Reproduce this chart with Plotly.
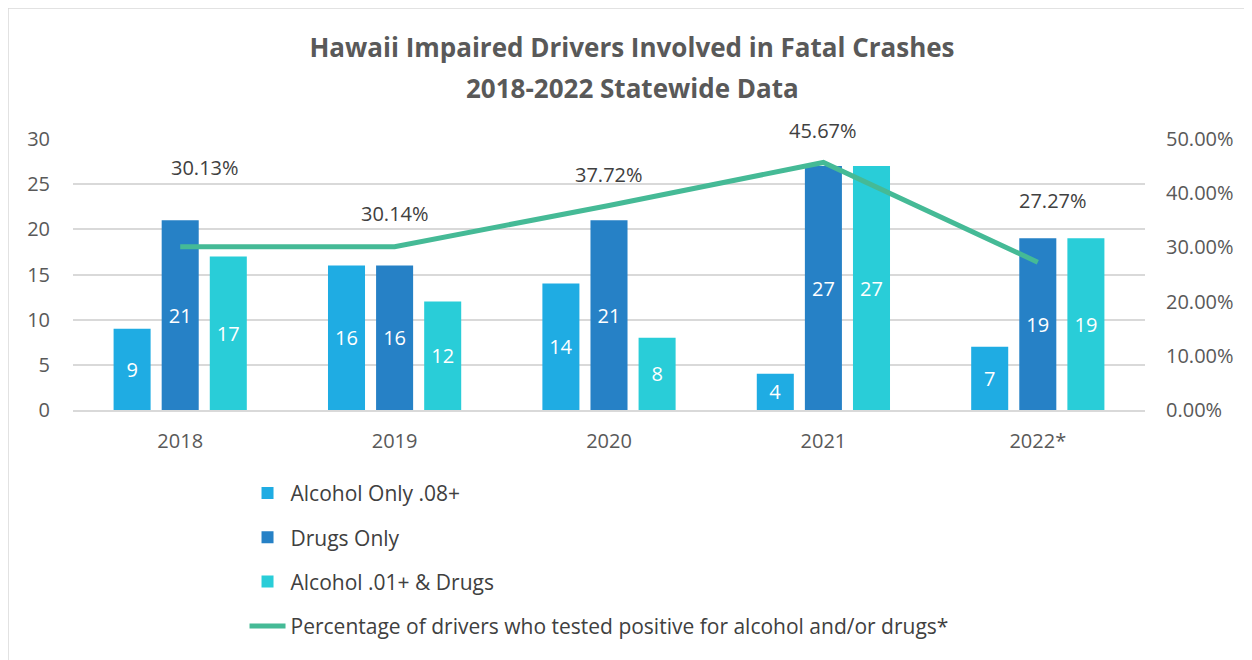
import plotly.graph_objects as go

years = ["2018", "2019", "2020", "2021", "2022*"]
alcohol_only = [9, 16, 14, 4, 7]
drugs_only = [21, 16, 21, 27, 19]
alcohol_drugs = [17, 12, 8, 27, 19]
pct_positive = [0.3013, 0.3014, 0.3772, 0.4567, 0.2727]

names = ["Alcohol Only .08+", "Drugs Only", "Alcohol .01+ & Drugs",
         "Percentage of drivers who tested positive for alcohol and/or drugs*"]
colors = ["#1FACE3", "#2681C6", "#29CDD8", "#45BA96"]

FONT = "Open Sans"
PLOT_H = 271  # px height of the plot area
fig = go.Figure()
for i, (vals, nm) in enumerate(zip([alcohol_only, drugs_only, alcohol_drugs], names[:3])):
    fig.add_trace(go.Bar(
        x=years, y=vals, name=nm, marker=dict(color=colors[i], line=dict(width=0)),
        text=[str(v) for v in vals], textposition="inside", insidetextanchor="middle",
        textfont=dict(color="white", size=20, family=FONT), constraintext="none",
        legendgroup=f"g{i}", cliponaxis=False,
    ))

fig.add_trace(go.Scatter(
    x=years, y=pct_positive, name=names[3], mode="lines", yaxis="y2",
    line=dict(color=colors[3], width=5), legendgroup="g3",
))

# label offsets (pixels) to mimic manually placed data labels
xshift = [25, 0, 0, 0, 15]
yshift = [79, 33, 31, 32, 62]
for i, p in enumerate(pct_positive):
    fig.add_annotation(x=i, xref="x", y=p, yref="y2", text=f"{p*100:.2f}%", showarrow=False,
                       xshift=xshift[i], yshift=yshift[i],
                       font=dict(size=20, color="#404040", family=FONT))

fig.add_annotation(xref="paper", yref="paper", x=(624 - 65) / 1072, y=(402 - 80) / PLOT_H,
                   text="<b>2018-2022 Statewide Data</b>", showarrow=False,
                   font=dict(size=26, color="#595959", family=FONT), yanchor="middle")

fig.update_layout(
    width=1244, height=652,
    margin=dict(l=65, r=107, t=131, b=250, autoexpand=False),
    paper_bgcolor="white", plot_bgcolor="white",
    title=dict(text="<b>Hawaii Impaired Drivers Involved in Fatal Crashes</b>",
               x=624 / 1244, xanchor="center", xref="container", yref="container",
               y=1 - 40 / 652, yanchor="middle",
               font=dict(size=26, color="#595959", family=FONT)),
    barmode="group", bargap=0.327, bargroupgap=0.23,
    font=dict(family=FONT, color="#595959", size=20),
    showlegend=True,
    legend=dict(x=0.160, y=-0.232, xanchor="left", yanchor="top", orientation="v",
                font=dict(size=21, color="#404040", family=FONT),
                tracegroupgap=14, itemwidth=36, bgcolor="rgba(0,0,0,0)"),
    xaxis=dict(type="category", range=[-0.5, 4.5], showgrid=False, showline=True,
               linecolor="#D9D9D9", linewidth=1.5,
               ticks="", ticklabelstandoff=12, tickfont=dict(size=20, color="#595959")),
    yaxis=dict(range=[0, 30], dtick=5, showgrid=True, gridcolor="#D9D9D9", gridwidth=1.5,
               zeroline=False, ticks="", ticklabelstandoff=22,
               tickfont=dict(size=20, color="#595959")),
    yaxis2=dict(range=[0, 0.5], dtick=0.1, tickformat=".2%", overlaying="y", side="right",
                showgrid=False, zeroline=False, ticks="", ticklabelstandoff=20,
                tickfont=dict(size=20, color="#595959")),
    shapes=[dict(type="rect", xref="paper", yref="paper",
                 x0=(0 - 65) / 1072, x1=(1300 - 65) / 1072,
                 y0=(402 - 700) / PLOT_H, y1=(402 - 0) / PLOT_H,
                 line=dict(color="#D9D9D9", width=1.5), fillcolor="rgba(0,0,0,0)", layer="below")],
)

fig.write_html("out.html")
